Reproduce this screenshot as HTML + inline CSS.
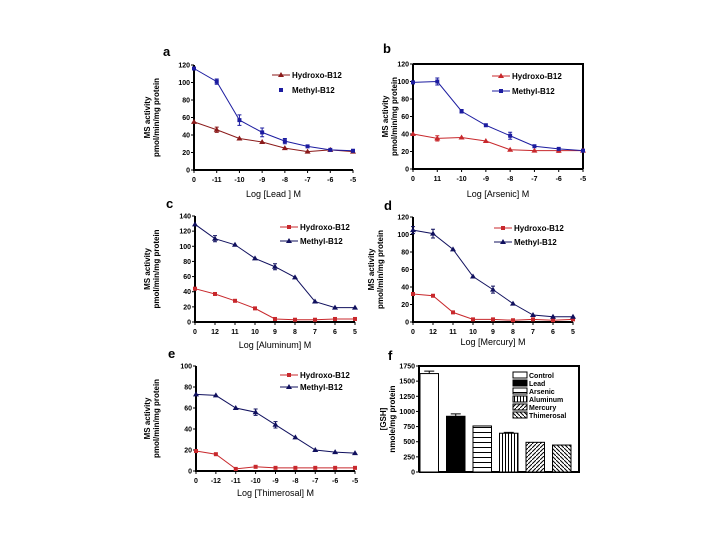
<!DOCTYPE html>
<html><head><meta charset="utf-8"><style>
body{margin:0;background:#fff;}
svg{display:block;font-family:"Liberation Sans",sans-serif;}
</style></head><body>
<svg id="fig" width="720" height="540" viewBox="0 0 720 540"></svg>
<script>
// Panel a (Lead)
const catsA = ["0","-11","-10","-9","-8","-7","-6","-5"];
const hydroA = [55,46,36,32,25,21,23,21];
const methylA = [116,101,57,43,33,27,23,22];
const errMethylA = [0,3,6,5,3,0,0,0];
const errHydroA = [0,3,0,0,0,0,0,0];
// Panel b (Arsenic)
const catsB = ["0","11","-10","-9","-8","-7","-6","-5"];
const hydroB = [40,35,36,32,22,21,21,21];
const methylB = [99,100,66,50,38,26,23,21];
const errMethylB = [0,4,2,0,4,0,0,0];
const errHydroB = [0,3,0,0,0,0,2,0];
// Panel c (Aluminum)
const catsC = ["0","12","11","10","9","8","7","6","5"];
const hydroC = [44,37,28,18,4,3,3,4,4];
const methylC = [129,110,102,84,73,59,27,19,19];
const errMethylC = [0,4,0,0,4,0,0,0,0];
// Panel d (Mercury)
const catsD = ["0","12","11","10","9","8","7","6","5"];
const hydroD = [32,30,11,3,3,2,3,2,3];
const methylD = [105,101,83,52,37,21,8,6,6];
const errMethylD = [4,5,0,0,4,0,0,0,0];
// Panel e (Thimerosal)
const catsE = ["0","-12","-11","-10","-9","-8","-7","-6","-5"];
const hydroE = [19,16,2,4,3,3,3,3,3];
const methylE = [73,72,60,56,44,32,20,18,17];
const errMethylE = [0,0,0,3,3,0,0,0,0];
// Panel f (GSH)
const barCats = ["Control","Lead","Arsenic","Aluminum","Mercury","Thimerosal"];
const barVals = [1625,920,760,640,490,445];
const barErr = [40,40,0,15,0,0];
const fTicks = [0,250,500,750,1000,1250,1500,1750];

const NS="http://www.w3.org/2000/svg";
const svg=document.getElementById('fig');
function el(tag,attrs,parent,text){const e=document.createElementNS(NS,tag);for(const k in attrs)e.setAttribute(k,attrs[k]);if(text!==undefined)e.textContent=text;(parent||svg).appendChild(e);return e;}

function marker(g,shape,x,y,col){
  if(shape==='tri'){el('polygon',{points:`${x},${y-3} ${x-3},${y+2} ${x+3},${y+2}`,fill:col},g);}
  else el('rect',{x:x-2,y:y-2,width:4,height:4,fill:col},g);
}

function panel(p){
  const g=el('g',{});
  
  
  const n=p.cats.length;
  const xs=i=>p.x0+(p.x1-p.x0)*i/(n-1);
  const ys=v=>p.y0-(p.y0-p.yTop)*v/p.ymax;
  // box
  const ax=el('path',{d:`M${p.x0},${p.yTop} V${p.y0} H${p.x1}`,stroke:'#000','stroke-width':2,fill:'none'},g);
  
  
  if(p.box){el('path',{d:`M${p.x0},${p.yTop} H${p.x1} V${p.y0}`,stroke:'#000','stroke-width':2,fill:'none'},g);}
  // y ticks
  for(let v=0;v<=p.ymax;v+=20){const y=ys(v);
    el('line',{x1:p.x0-3,x2:p.x0,y1:y,y2:y,stroke:'#000','stroke-width':1},g);
    const t=el('text',{x:p.x0-4,y:y+2.5,'font-size':7,'font-weight':'bold','text-anchor':'end'},g,String(v));
    
    
  }
  p.cats.forEach((c,i)=>{const x=xs(i);
    el('line',{x1:x,x2:x,y1:p.y0,y2:p.y0+3,stroke:'#000','stroke-width':1},g);
    const t=el('text',{x:x,y:p.y0+12,'font-size':7,'font-weight':'bold','text-anchor':'middle'},g,c);
    
    
  });
  // series
  p.series.forEach(s=>{
    const pts=s.vals.map((v,i)=>xs(i)+','+ys(v)).join(' ');
    const l=el('polyline',{points:pts,fill:'none',stroke:s.col,'stroke-width':1},g);
    
    
    s.vals.forEach((v,i)=>{
      const e=s.err?s.err[i]:0;
      if(e>0){const x=xs(i);el('path',{d:`M${x},${ys(v+e)}V${ys(v-e)}M${x-2},${ys(v+e)}h4M${x-2},${ys(v-e)}h4`,stroke:s.col,'stroke-width':1},g);}
      marker(g,s.shape,xs(i),ys(v),s.col);
    });
  });
  // legend
  p.series.forEach((s,k)=>{
    const ly=p.legY+k*p.legDy;
    if(s.legLine) el('line',{x1:p.legX,x2:p.legX+18,y1:ly,y2:ly,stroke:s.col,'stroke-width':1},g);
    marker(g,s.shape,p.legX+9,ly,s.col);
    const t=el('text',{x:p.legX+20,y:ly+3,'font-size':8,'font-weight':'bold'},g,s.label);
    
    
  });
  // titles
  el('text',{x:p.letX,y:p.letY,'font-size':13,'font-weight':'bold'},g,p.id);
  const xt=el('text',{x:(p.x0+p.x1)/2,y:p.xtY,'font-size':9,'text-anchor':'middle'},g,p.xtitle);
  
  
  const cy=(p.y0+p.yTop)/2;
  const yt=el('text',{'font-size':8,'font-weight':'bold','text-anchor':'middle',transform:`translate(${p.ytX},${cy}) rotate(-90)`},g);
  
  
  el('tspan',{x:0,dy:0},yt,'MS activity');
  el('tspan',{x:0,dy:9},yt,'pmol/min/mg protein');
}

const DR='#8b1a1a', BL='#1c1ca0', RD='#c8282c', NV='#10105e';
panel({id:'a',cats:catsA,x0:194,x1:353,y0:170,yTop:65,ymax:120,box:false,letX:163,letY:56,xtY:197,xtitle:'Log [Lead ] M',ytX:150,legX:272,legY:75,legDy:15,
  series:[{name:'hydroxo',label:'Hydroxo-B12',vals:hydroA,err:errHydroA,col:DR,shape:'tri',legLine:true},
          {name:'methyl',label:'Methyl-B12',vals:methylA,err:errMethylA,col:BL,shape:'sq',legLine:false}]});
panel({id:'b',cats:catsB,x0:413,x1:583,y0:169,yTop:64,ymax:120,box:true,letX:383,letY:53,xtY:197,xtitle:'Log [Arsenic] M',ytX:388,legX:492,legY:76,legDy:15,
  series:[{name:'hydroxo',label:'Hydroxo-B12',vals:hydroB,err:errHydroB,col:RD,shape:'tri',legLine:true},
          {name:'methyl',label:'Methyl-B12',vals:methylB,err:errMethylB,col:BL,shape:'sq',legLine:true}]});
panel({id:'c',cats:catsC,x0:195,x1:355,y0:322,yTop:216,ymax:140,box:false,letX:166,letY:208,xtY:348,xtitle:'Log [Aluminum] M',ytX:150,legX:280,legY:227,legDy:14,
  series:[{name:'hydroxo',label:'Hydroxo-B12',vals:hydroC,err:null,col:RD,shape:'sq',legLine:true},
          {name:'methyl',label:'Methyl-B12',vals:methylC,err:errMethylC,col:NV,shape:'tri',legLine:true}]});
panel({id:'d',cats:catsD,x0:413,x1:573,y0:322,yTop:217,ymax:120,box:false,letX:384,letY:210,xtY:345,xtitle:'Log [Mercury] M',ytX:374,legX:494,legY:228,legDy:14,
  series:[{name:'hydroxo',label:'Hydroxo-B12',vals:hydroD,err:null,col:RD,shape:'sq',legLine:true},
          {name:'methyl',label:'Methyl-B12',vals:methylD,err:errMethylD,col:NV,shape:'tri',legLine:true}]});
panel({id:'e',cats:catsE,x0:196,x1:355,y0:471,yTop:366,ymax:100,box:false,letX:168,letY:358,xtY:496,xtitle:'Log [Thimerosal] M',ytX:150,legX:280,legY:375,legDy:12,
  series:[{name:'hydroxo',label:'Hydroxo-B12',vals:hydroE,err:null,col:RD,shape:'sq',legLine:true},
          {name:'methyl',label:'Methyl-B12',vals:methylE,err:errMethylE,col:NV,shape:'tri',legLine:true}]});

// Panel f bar chart
(function(){
  const g=el('g',{});
  
  
  const x0=419,x1=579,y0=472,yTop=366,ymax=1750;
  const ys=v=>y0-(y0-yTop)*v/ymax;
  const defs=el('defs',{},g);
  const pats=[
    null,null,
    ['h',4],['v',3],['d1',4],['d2',4]
  ];
  const mk=(id,type,s)=>{const p=el('pattern',{id:id,patternUnits:'userSpaceOnUse',width:s,height:s},defs);
    el('rect',{width:s,height:s,fill:'#fff'},p);
    let d= type==='h'?`M0,${s/2}H${s}`:type==='v'?`M${s/2},0V${s}`:type==='d1'?`M0,${s}L${s},0`:`M0,0L${s},${s}`;
    el('path',{d:d,stroke:'#000','stroke-width':1},p);};
  mk('ph','h',5);mk('pv','v',3);mk('pd1','d1',4);mk('pd2','d2',4);
  const fills=['#fff','#000','url(#ph)','url(#pv)','url(#pd1)','url(#pd2)'];
  el('path',{d:`M${x0},${y0}V${yTop}H${x1}V${y0}H${x0}`,stroke:'#000','stroke-width':2,fill:'none'},g);
  fTicks.forEach(v=>{const y=ys(v);
    el('line',{x1:x0-3,x2:x0,y1:y,y2:y,stroke:'#000'},g);
    const t=el('text',{x:x0-4,y:y+2.5,'font-size':7,'font-weight':'bold','text-anchor':'end'},g,String(v));
    
    
  });
  const step=26.5,bw=18.5;
  barVals.forEach((v,i)=>{
    const bx=x0+1+i*step;
    const r=el('rect',{x:bx,y:ys(v),width:bw,height:y0-ys(v),fill:fills[i],stroke:'#000','stroke-width':1},g);
    
    
    if(barErr[i]>0){const cx=bx+bw/2;el('path',{d:`M${cx},${ys(v)}V${ys(v+barErr[i])}M${cx-5},${ys(v+barErr[i])}h10`,stroke:'#000'},g);}
    const ly=372+i*8;
    el('rect',{x:513,y:ly,width:14,height:6,fill:fills[i],stroke:'#000','stroke-width':1},g);
    const t=el('text',{x:529,y:ly+6,'font-size':7,'font-weight':'bold'},g,barCats[i]);
    
    
  });
  el('text',{x:388,y:360,'font-size':13,'font-weight':'bold'},g,'f');
  const yt=el('text',{'font-size':8,'font-weight':'bold','text-anchor':'middle',transform:`translate(386,${(y0+yTop)/2}) rotate(-90)`},g);
  
  
  el('tspan',{x:0,dy:0},yt,'[GSH]');
  el('tspan',{x:0,dy:9},yt,'nmole/mg protein');
})();
</script>
</body></html>
